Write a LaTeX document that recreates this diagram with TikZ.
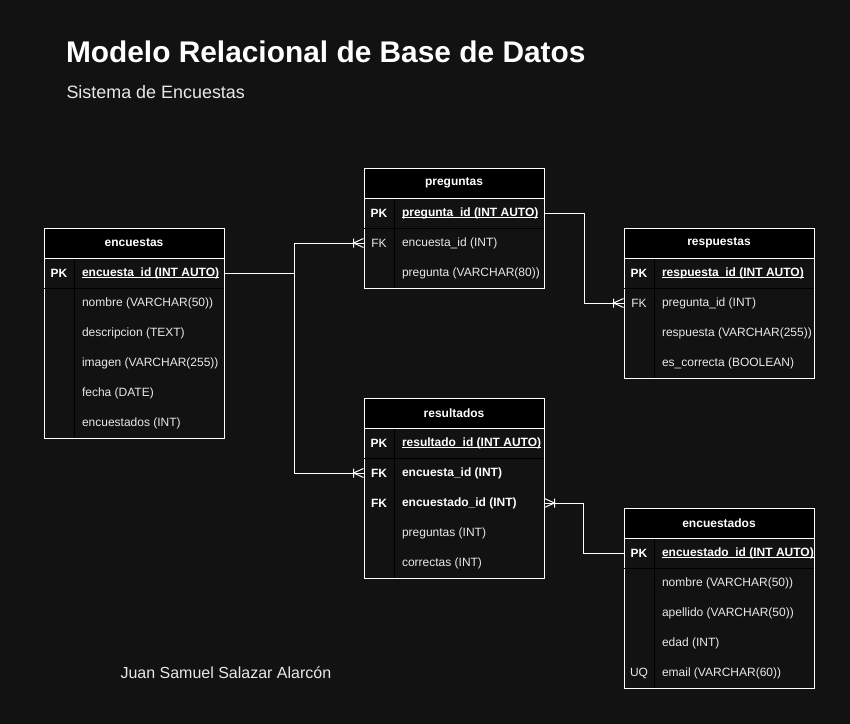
\documentclass[tikz,border=0pt]{standalone}
\usepackage{fontspec}
\setmainfont{Liberation Sans}
\definecolor{bgdark}{RGB}{18,18,18}
\definecolor{txtlight}{RGB}{232,232,232}
\newcommand{\pkfield}[1]{\setbox0\hbox{#1}\rlap{\rule[-1.3pt]{\wd0}{0.6pt}}\box0}
% crow's foot (one or many) at a table side, #2=1 left side, #2=-1 right side
\newcommand{\crowfoot}[2]{\draw[link] (#1) ++({#2*(-10)},-4.5) -- ++(0,9) (#1) ++(0,-4.5) -- ++({#2*(-10)},4.5) -- ++({#2*10},4.5);}

\tikzset{every picture/.style={line width=0.75pt}}
\tikzset{
  rowbox/.style={minimum width=#1, minimum height=22.5pt, inner sep=0pt},
  headbox/.style={rowbox=#1, draw=white, fill=black, text=white, font=\fontsize{9}{11}\selectfont\bfseries},
  tablebox/.style={draw=white, fill=bgdark},
  keytxt/.style={text=white, font=\fontsize{9}{11}\selectfont\bfseries, inner sep=0pt},
  keyplain/.style={text=txtlight, font=\fontsize{9}{11}\selectfont, inner sep=0pt},
  fieldtxt/.style={anchor=west, text=txtlight, font=\fontsize{9}{11}\selectfont, inner sep=0pt},
  fieldbold/.style={fieldtxt, text=white, font=\fontsize{9}{11}\selectfont\bfseries},
  link/.style={draw=white},
}

\begin{document}
\begin{tikzpicture}[x=0.75pt,y=0.75pt,yscale=-1,xscale=1]
%set diagram left start at 0, and has height of 724
\fill[bgdark] (0,0) rectangle (850,724);
\useasboundingbox (0,0) rectangle (850,724);

%Text: title
\node[anchor=base west, inner sep=0pt, text=white, font=\fontsize{22.4}{26}\selectfont\bfseries] (title) at (65.5,62.5) {Modelo Relacional de Base de Datos};
\node[anchor=base west, inner sep=0pt, text=txtlight, font=\fontsize{13.45}{16}\selectfont] (subtitle) at (66,98.3) {Sistema de Encuestas};

%Shape: Table [id:encuestas]
\draw[tablebox] (44,228) rectangle (224,438);
\draw (74,258) -- (74,438) (44,288) -- (224,288);
\node[headbox=135pt] (encHead) at (134,243) {encuestas};
\node[rowbox=135pt] (encPK) at (134,273) {};
\node[keytxt] (encPKk) at (59,273) {PK};
\node[fieldbold] (encPKf) at (81.5,273) {\pkfield{encuesta\_id (INT AUTO)}};
\node[fieldtxt] (encF1) at (81.5,303) {nombre (VARCHAR(50))};
\node[fieldtxt] (encF2) at (81.5,333) {descripcion (TEXT)};
\node[fieldtxt] (encF3) at (81.5,363) {imagen (VARCHAR(255))};
\node[fieldtxt] (encF4) at (81.5,393) {fecha (DATE)};
\node[fieldtxt] (encF5) at (81.5,423) {encuestados (INT)};

%Shape: Table [id:preguntas]
\draw[tablebox] (364,168) rectangle (544,288);
\draw (394,198) -- (394,288) (364,228) -- (544,228);
\node[headbox=135pt] (pregHead) at (454,183) {preguntas};
\node[rowbox=135pt] (pregPK) at (454,213) {};
\node[keytxt] (pregPKk) at (379,213) {PK};
\node[fieldbold] (pregPKf) at (401.5,213) {\pkfield{pregunta\_id (INT AUTO)}};
\node[rowbox=135pt] (pregFK) at (454,243) {};
\node[keyplain] (pregFKk) at (379,243) {FK};
\node[fieldtxt] (pregF1) at (401.5,243) {encuesta\_id (INT)};
\node[fieldtxt] (pregF2) at (401.5,273) {pregunta (VARCHAR(80))};

%Shape: Table [id:respuestas]
\draw[tablebox] (624,228) rectangle (814,378);
\draw (654,258) -- (654,378) (624,288) -- (814,288);
\node[headbox=142.5pt] (respHead) at (719,243) {respuestas};
\node[rowbox=142.5pt] (respPK) at (719,273) {};
\node[keytxt] (respPKk) at (639,273) {PK};
\node[fieldbold] (respPKf) at (661.5,273) {\pkfield{respuesta\_id (INT AUTO)}};
\node[rowbox=142.5pt] (respFK) at (719,303) {};
\node[keyplain] (respFKk) at (639,303) {FK};
\node[fieldtxt] (respF1) at (661.5,303) {pregunta\_id (INT)};
\node[fieldtxt] (respF2) at (661.5,333) {respuesta (VARCHAR(255))};
\node[fieldtxt] (respF3) at (661.5,363) {es\_correcta (BOOLEAN)};

%Shape: Table [id:resultados]
\draw[tablebox] (364,398) rectangle (544,578);
\draw (394,428) -- (394,578) (364,458) -- (544,458);
\node[headbox=135pt] (resHead) at (454,413) {resultados};
\node[rowbox=135pt] (resPK) at (454,443) {};
\node[keytxt] (resPKk) at (379,443) {PK};
\node[fieldbold] (resPKf) at (401.5,443) {\pkfield{resultado\_id (INT AUTO)}};
\node[rowbox=135pt] (resFKenc) at (454,473) {};
\node[keytxt] (resFKk1) at (379,473) {FK};
\node[fieldbold] (resF1) at (401.5,473) {encuesta\_id (INT)};
\node[rowbox=135pt] (resFKdo) at (454,503) {};
\node[keytxt] (resFKk2) at (379,503) {FK};
\node[fieldbold] (resF2) at (401.5,503) {encuestado\_id (INT)};
\node[fieldtxt] (resF3) at (401.5,533) {preguntas (INT)};
\node[fieldtxt] (resF4) at (401.5,563) {correctas (INT)};

%Shape: Table [id:encuestados]
\draw[tablebox] (624,508) rectangle (814,688);
\draw (654,538) -- (654,688) (624,568) -- (814,568);
\node[headbox=142.5pt] (encdoHead) at (719,523) {encuestados};
\node[rowbox=142.5pt] (encdoPK) at (719,553) {};
\node[keytxt] (encdoPKk) at (639,553) {PK};
\node[fieldbold] (encdoPKf) at (661.5,553) {\pkfield{encuestado\_id (INT AUTO)}};
\node[fieldtxt] (encdoF1) at (661.5,583) {nombre (VARCHAR(50))};
\node[fieldtxt] (encdoF2) at (661.5,613) {apellido (VARCHAR(50))};
\node[fieldtxt] (encdoF3) at (661.5,643) {edad (INT)};
\node[keyplain] (encdoUQk) at (639,673) {UQ};
\node[fieldtxt] (encdoF4) at (661.5,673) {email (VARCHAR(60))};

%Connectors
\draw[link] (encPK.east) -- ++(70,0) |- (pregFK.west);
\draw[link] (encPK.east) -- ++(70,0) |- (resFKenc.west);
\draw[link] (pregPK.east) -- ++(40,0) |- (respFK.west);
\draw[link] (encdoPK.west) -- ++(-40,0) |- (resFKdo.east);
\crowfoot{pregFK.west}{1}
\crowfoot{resFKenc.west}{1}
\crowfoot{respFK.west}{1}
\crowfoot{resFKdo.east}{-1}

%Text: author
\node[anchor=west, inner sep=0pt, text=txtlight, font=\fontsize{12}{14}\selectfont] (author) at (120,673) {Juan Samuel Salazar Alarcón};

\end{tikzpicture}
\end{document}
